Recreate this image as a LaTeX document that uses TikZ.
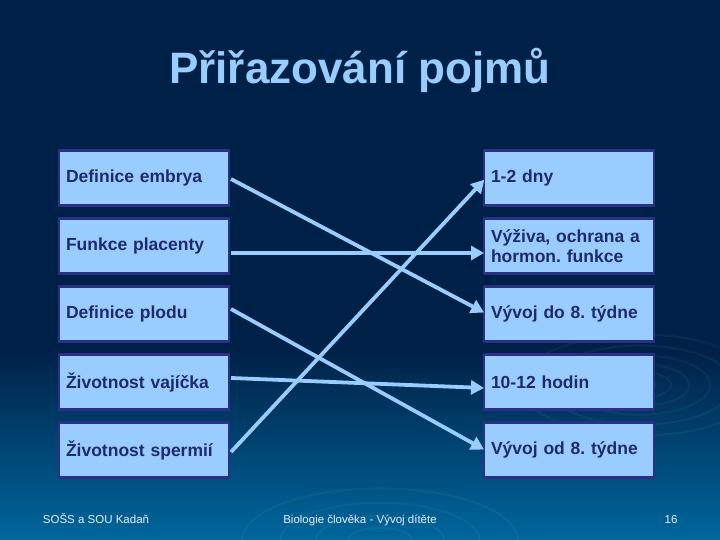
\documentclass[tikz,border=0pt]{standalone}
\usepackage{fontspec}
\setmainfont{Liberation Sans}
\usetikzlibrary{arrows.meta}
\definecolor{bgtop}{HTML}{002147}
\definecolor{bgbot}{HTML}{00679C}
\definecolor{boxfill}{HTML}{99CCFF}
\definecolor{boxdraw}{HTML}{2B2F85}
\definecolor{boxtext}{HTML}{1F2A6E}
\definecolor{arrowc}{HTML}{99CCFF}
\tikzset{
  pojem/.style={draw=boxdraw, line width=2.2pt, fill=boxfill, minimum width=170pt, minimum height=55pt,
    inner sep=0pt, text=boxtext, font=\fontsize{17.5}{20}\selectfont\bfseries, align=left, text width=156pt},
  spoj/.style={draw=arrowc, line width=3.8pt, -{Triangle[length=13pt,width=14pt]}, shorten >=1pt},
  pata/.style={text=white!92!blue, font=\fontsize{11.5}{13}\selectfont, anchor=base}
}
\begin{document}
\frenchspacing
\begin{tikzpicture}[x=1pt,y=-1pt]
\useasboundingbox (0,0) rectangle (720,540);
\fill[bgtop] (0,0) rectangle (720,541);
\shade[top color=bgtop, bottom color=bgbot] (0,350) rectangle (720,540);
% ripples
\begin{scope}[draw=white, opacity=0.045, line width=2pt]
  \foreach \r in {12,24,38,54,72,92} { \draw (640,385) ellipse ({\r*1.3} and \r*0.55); }
  \foreach \r in {20,40,62,86} { \draw (380,540) ellipse ({\r*1.6} and \r*0.6); }
\end{scope}
\node[text=boxfill, font=\fontsize{44}{50}\selectfont\bfseries, anchor=base] (title) at (360,84) {Přiřazování pojmů};
\node[pojem] (l1) at (144,178) {Definice embrya};
\node[pojem] (l2) at (144,246) {Funkce placenty};
\node[pojem] (l3) at (144,314) {Definice plodu};
\node[pojem] (l4) at (144,382) {Životnost vajíčka};
\node[pojem] (l5) at (144,450) {Životnost spermií};
\node[pojem] (r1) at (569,178) {1-2 dny};
\node[pojem] (r2) at (569,246) {Výživa, ochrana a\\hormon. funkce};
\node[pojem] (r3) at (569,314) {Vývoj do 8. týdne};
\node[pojem] (r4) at (569,382) {10-12 hodin};
\node[pojem] (r5) at (569,450) {Vývoj od 8. týdne};
\coordinate (a1) at (231,179); \coordinate (b1) at (485,313);
\coordinate (a2) at (231,253); \coordinate (b2) at (485,253);
\coordinate (a3) at (231,309); \coordinate (b3) at (485,450);
\coordinate (a4) at (231,378); \coordinate (b4) at (485,388);
\coordinate (a5) at (231,452); \coordinate (b5) at (485,179);
\draw[spoj] (a1) -- (b1);
\draw[spoj] (a2) -- (b2);
\draw[spoj] (a3) -- (b3);
\draw[spoj] (a4) -- (b4);
\draw[spoj] (a5) -- (b5);
\node[pata] (f1) at (96,523) {SOŠS a SOU Kadaň};
\node[pata] (f2) at (360,523) {Biologie člověka - Vývoj dítěte};
\node[pata] (f3) at (671,523) {16};
\end{tikzpicture}
\end{document}
